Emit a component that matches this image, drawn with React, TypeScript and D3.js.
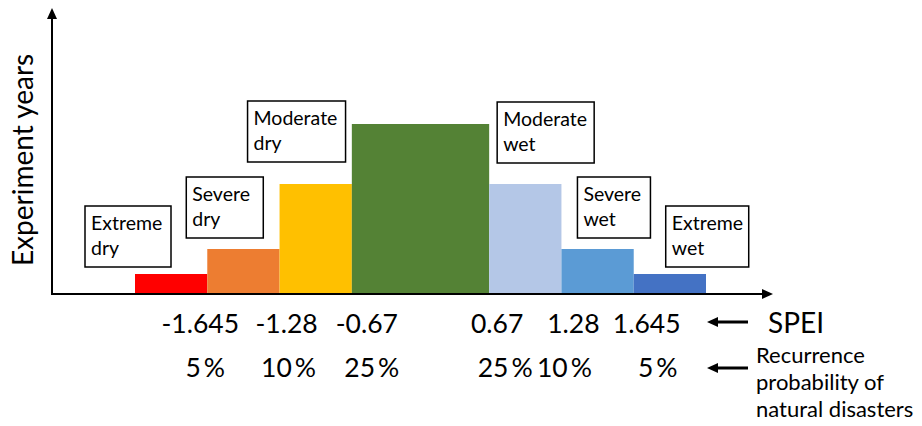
import React from "react";
import * as d3 from "d3";

// SPEI drought/wetness classes, left (dry) to right (wet)
const classNames = [
  "Extreme dry",
  "Severe dry",
  "Moderate dry",
  "Normal",
  "Moderate wet",
  "Severe wet",
  "Extreme wet",
];
// Number of experiment years falling in each class
const experimentYears = [2, 4.5, 11, 17, 11, 4.5, 2];
// Relative horizontal span of each class (the normal band is wider)
const classSpan = [1, 1, 1, 1.9, 1, 1, 1];
const classColors = ["#FF0000", "#ED7D31", "#FFC000", "#548235", "#B4C7E7", "#5B9BD5", "#4472C4"];
// Class boundaries on the SPEI scale and the matching recurrence probability
const speiThresholds = ["-1.645", "-1.28", "-0.67", "0.67", "1.28", "1.645"];
const recurrenceProb = ["5", "10", "25", "25", "10", "5"];

const W = 922;
const H = 426;
const FONT = "Lato, 'Open Sans', sans-serif";

export default function App() {
  const originX = 52;
  const baseY = 294;

  const edges = [0, ...d3.cumsum(classSpan)];
  const x = d3.scaleLinear().domain([0, d3.sum(classSpan)]).range([135, 706]);
  const y = d3.scaleLinear().domain([0, 28.4]).range([baseY, 10]);

  // label box placement relative to each bar: [left offset from bar start, gap above bar, width]
  const boxLayout: ([number, number, number] | null)[] = [
    [-50, 7, 86],
    [-21, 11, 77],
    [-32, 22, 98],
    null,
    [8, 21, 97],
    [16, 11, 73],
    [32, 7, 83],
  ];
  const boxH = 61;

  // nudges for the threshold labels under the axis
  const speiDx = [-7, 7, 15, 8, 12, 13];
  const probDx = [-2, 9, 20, 16, 3, 24];

  const leftArrow = (x1: number, x2: number, yy: number) => (
    <g>
      <line x1={x1 + 8} x2={x2} y1={yy} y2={yy} stroke="#000" strokeWidth={3} />
      <path d={`M${x1},${yy} L${x1 + 11},${yy - 5} L${x1 + 11},${yy + 5} Z`} fill="#000" />
    </g>
  );

  return (
    <svg
      width={W}
      height={H}
      style={{ position: "absolute", left: 0, top: 0, background: "#fff" }}
      fontFamily={FONT}
    >
      {/* bars */}
      {experimentYears.map((v, i) => (
        <rect
          key={classNames[i]}
          x={x(edges[i])}
          y={y(v)}
          width={x(edges[i + 1]) - x(edges[i])}
          height={baseY - y(v)}
          fill={classColors[i]}
        />
      ))}

      {/* axes with arrow heads */}
      <line x1={originX} x2={originX} y1={baseY + 1} y2={16} stroke="#000" strokeWidth={2} />
      <path d={`M${originX},8 L${originX - 5},19 L${originX + 5},19 Z`} fill="#000" />
      <line x1={originX - 1} x2={765} y1={baseY} y2={baseY} stroke="#000" strokeWidth={2} />
      <path d={`M773,${baseY} L762,${baseY - 5} L762,${baseY + 5} Z`} fill="#000" />

      <text
        transform={`translate(33,160) rotate(-90)`}
        textAnchor="middle"
        fontSize={28}
        fill="#000"
      >
        Experiment years
      </text>

      {/* class label boxes */}
      {classNames.map((name, i) => {
        const lay = boxLayout[i];
        if (!lay) return null;
        const [dx, gap, bw] = lay;
        const bx = x(edges[i]) + dx;
        const by = y(experimentYears[i]) - gap - boxH;
        const [l1, l2] = name.split(" ");
        return (
          <g key={name}>
            <rect x={bx} y={by} width={bw} height={boxH} fill="#fff" stroke="#000" strokeWidth={1.5} />
            <text x={bx + 6} y={by + 24} fontSize={19.5} fill="#000">
              {l1}
            </text>
            <text x={bx + 6} y={by + 49} fontSize={19.5} fill="#000">
              {l2}
            </text>
          </g>
        );
      })}

      {/* threshold values */}
      {speiThresholds.map((t, j) => (
        <text key={"s" + j} x={x(edges[j + 1]) + speiDx[j]} y={333} textAnchor="middle" fontSize={26.5} fill="#000">
          {t}
        </text>
      ))}
      {recurrenceProb.map((p, j) => (
        <text key={"p" + j} x={x(edges[j + 1]) + probDx[j]} y={377} textAnchor="middle" fontSize={26.5} fill="#000">
          {p}
          <tspan dx={3}>%</tspan>
        </text>
      ))}

      {leftArrow(707, 748, 322)}
      <text x={768} y={333} fontSize={28} fill="#000">
        SPEI
      </text>
      {leftArrow(707, 748, 368)}
      <text x={756} y={363} fontSize={22} fill="#000">
        <tspan x={756}>Recurrence</tspan>
        <tspan x={756} dy={27}>probability of</tspan>
        <tspan x={756} dy={27}>natural disasters</tspan>
      </text>
    </svg>
  );
}
